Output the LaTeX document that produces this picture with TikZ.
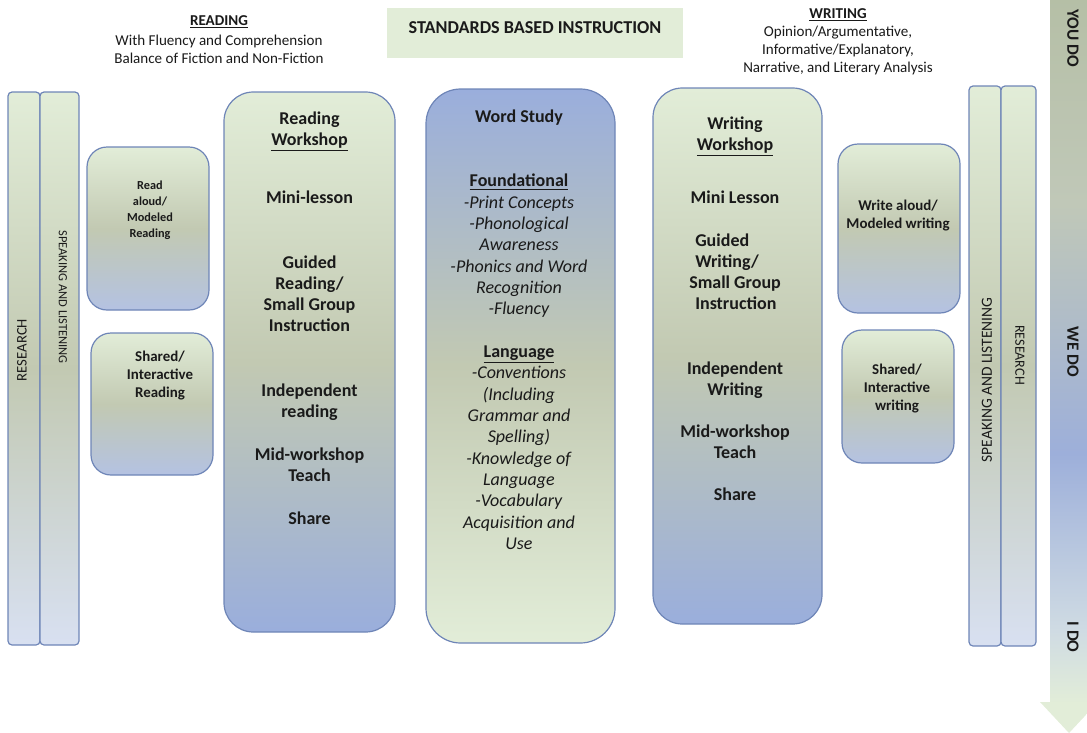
\documentclass[tikz,border=0pt]{standalone}
\usepackage{fontspec}
\setmainfont{Carlito}
\usetikzlibrary{fit}
\definecolor{lg}{HTML}{E2EDD8}
\definecolor{og}{HTML}{C2C9B2}
\definecolor{lb}{HTML}{D8E0F1}
\definecolor{bl}{HTML}{9AAEDC}
\definecolor{sb}{HTML}{B4C2E2}
\definecolor{bd}{HTML}{6E85B7}
\definecolor{tx}{HTML}{1A1A1A}
\definecolor{arA}{HTML}{B5BFA6}
\definecolor{arB}{HTML}{C0C8B8}
\definecolor{arC}{HTML}{9DAFDA}
\definecolor{arD}{HTML}{CFDBE3}
\definecolor{arE}{HTML}{E2EDD8}
\pgfdeclareverticalshading{arrowshade}{100bp}{color(0bp)=(arE); color(27bp)=(arE); color(32bp)=(arD); color(44bp)=(arC); color(61bp)=(arB); color(75bp)=(arA); color(100bp)=(arA)}
\tikzset{
  box/.style={draw=bd, line width=0.9pt, inner sep=0pt},
  barbox/.style={box, rounded corners=3pt, top color=lg, bottom color=lb, middle color=og},
  smallbox/.style={box, rounded corners=15pt, top color=lg, bottom color=sb, middle color=og},
  wsbox/.style={box, rounded corners=22pt, top color=lg, bottom color=bl, middle color=og},
  wordbox/.style={box, rounded corners=26pt, top color=bl, bottom color=lg, middle color=og},
  txt/.style={inner sep=0pt, text=tx, align=center},
  bigtxt/.style={txt, font=\bfseries\fontsize{13.5}{15.75}\selectfont},
  headtxt/.style={txt, font=\fontsize{11.3}{13.5}\selectfont},
  midtxt/.style={txt, font=\bfseries\fontsize{11.2}{13.5}\selectfont},
  tinytxt/.style={txt, font=\bfseries\fontsize{9.2}{12}\selectfont},
  arrtxt/.style={txt, font=\bfseries\fontsize{12.9}{15}\selectfont, rotate=-90},
}
\begin{document}
\begin{tikzpicture}[x=0.75pt,y=-0.75pt]
\useasboundingbox (0,0) rectangle (1087,732);
\clip (0,0) rectangle (1087,732);
% big arrow
\path[shading=arrowshade] (1050,-2) -- (1090,-2) -- (1090,702) -- (1098,702) -- (1069,733) -- (1040,702) -- (1050,702) -- cycle;
\node[arrtxt] (youdo) at (1073,38) {YOU DO};
\node[arrtxt] (wedo) at (1073,352) {WE DO};
\node[arrtxt] (ido) at (1073,637) {I DO};
% title
\node[fill=lg, inner sep=0pt, fit={(387,8)(683,58)}] (titlebox) {};
\node[txt, font=\bfseries\fontsize{13.6}{16}\selectfont] (title) at (535,27.5) {STANDARDS BASED INSTRUCTION};
% headings
\node[headtxt, anchor=north] (readhead) at (219,15) {\textbf{\underline{READING}}\\[1.5pt]With Fluency and Comprehension\\Balance of Fiction and Non-Fiction};
\node[headtxt, anchor=north] (writehead) at (838,8) {\textbf{\underline{WRITING}}\\Opinion/Argumentative,\\Informative/Explanatory,\\Narrative, and Literary Analysis};
% left bars
\node[barbox, fit={(8,92)(40,645)}] (resL) {};
\node[barbox, fit={(40,92)(79,645)}] (slL) {};
\node[txt, font=\fontsize{11}{13}\selectfont, rotate=90] (resLt) at (22,350) {RESEARCH};
\node[txt, font=\fontsize{9.4}{11}\selectfont, rotate=-90] (slLt) at (63,297) {SPEAKING AND LISTENING};
% right bars
\node[barbox, fit={(969,86)(1001,646)}] (slR) {};
\node[barbox, fit={(1001,86)(1036,646)}] (resR) {};
\node[txt, font=\fontsize{11.6}{13}\selectfont, rotate=90] (slRt) at (987,380) {SPEAKING AND LISTENING};
\node[txt, font=\fontsize{10.6}{13}\selectfont, rotate=-90] (resRt) at (1020,355) {RESEARCH};
% small reading boxes
\node[smallbox, fit={(87,147)(209,310)}] (readaloud) {};
\node[tinytxt, anchor=north] (readaloudt) at (150,181) {Read\\aloud/\\Modeled\\Reading};
\node[smallbox, fit={(91,333)(213,475)}] (sharedread) {};
\node[midtxt, anchor=north] (sharedreadt) at (160,351) {Shared/\\Interactive\\Reading};
% reading workshop
\node[wsbox, fit={(224,92)(395,632)}] (rws) {};
\node[bigtxt, anchor=north] (rwst) at (309.5,112) {Reading\\\underline{Workshop}\\[27.75pt]Mini-lesson\\[33pt]Guided\\Reading/\\Small Group\\Instruction\\[33pt]Independent\\reading\\[16.5pt]Mid-workshop\\Teach\\[16.5pt]Share};
% word study
\node[wordbox, fit={(426,89)(615,643)}] (ws) {};
\node[txt, font=\fontsize{13.5}{16}\selectfont, anchor=north] (wst) at (519,110) {\textbf{Word Study}\\[32pt]\textbf{\underline{Foundational}}\\\textit{-Print Concepts}\\\textit{-Phonological}\\\textit{Awareness}\\\textit{-Phonics and Word}\\\textit{Recognition}\\\textit{-Fluency}\\[16pt]\textbf{\underline{Language}}\\\textit{-Conventions}\\\textit{(Including}\\\textit{Grammar and}\\\textit{Spelling)}\\\textit{-Knowledge of}\\\textit{Language}\\\textit{-Vocabulary}\\\textit{Acquisition and}\\\textit{Use}};
% writing workshop
\node[wsbox, fit={(653,88)(822,624)}] (wws) {};
\node[bigtxt, anchor=north] (wwst1) at (735,117) {Writing\\\underline{Workshop}\\[24pt]Mini Lesson};
\node[bigtxt, align=left, anchor=north west] (wwst2) at (689,234) {\hspace{4.5pt}Guided\\\hspace{4.5pt}Writing/\\Small Group\\\hspace{4.5pt}Instruction};
\node[bigtxt, anchor=north] (wwst3) at (735,362) {Independent\\Writing\\[15.75pt]Mid-workshop\\Teach\\[15.75pt]Share};
% small writing boxes
\node[smallbox, fit={(838,144)(960,313)}] (writealoud) {};
\node[midtxt, anchor=north] (writealoudt) at (898,200) {Write aloud/\\Modeled writing};
\node[smallbox, fit={(842,330)(954,463)}] (sharedwrite) {};
\node[midtxt, anchor=north] (sharedwritet) at (897,364) {Shared/\\Interactive\\writing};
\end{tikzpicture}
\end{document}
